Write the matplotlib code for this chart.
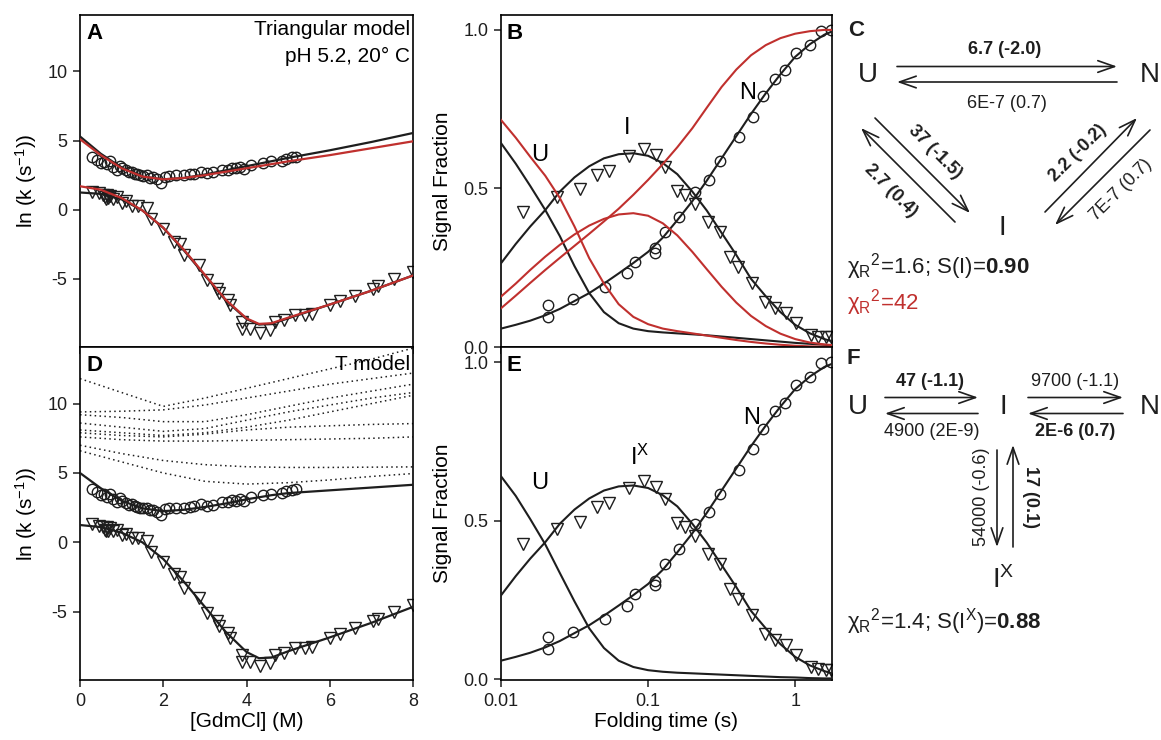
import matplotlib.pyplot as plt
import numpy as np
from matplotlib.patches import FancyArrowPatch

plt.rcParams['font.family'] = ['Liberation Sans', 'DejaVu Sans']
plt.rcParams['mathtext.fontset'] = 'custom'
plt.rcParams['mathtext.rm'] = 'Liberation Sans'
plt.rcParams['mathtext.it'] = 'Liberation Sans:italic'
plt.rcParams['mathtext.bf'] = 'Liberation Sans:bold'
plt.rcParams['mathtext.sf'] = 'Liberation Sans'
plt.rcParams['axes.linewidth'] = 1.2
plt.rcParams['axes.unicode_minus'] = False

BLACK = '#1e1e1e'
RED = '#c0302e'

# ---- chevron data, [GdmCl] (M) vs ln k ----
circ_x = [0.30, 0.42, 0.50, 0.58, 0.65, 0.72, 0.80, 0.88, 0.95, 1.02, 1.10, 1.18, 1.25, 1.32,
          1.38, 1.45, 1.52, 1.60, 1.68, 1.75, 1.85, 1.95, 2.05, 2.15, 2.30, 2.50, 2.65, 2.75,
          2.90, 3.05, 3.20, 3.40, 3.55, 3.65, 3.75, 3.85, 3.95, 4.10, 4.40, 4.60, 4.85, 4.95,
          5.10, 5.20]
circ_y = [3.85, 3.60, 3.40, 3.45, 3.30, 3.50, 3.10, 2.90, 3.20, 3.00, 2.85, 2.70, 2.75, 2.60,
          2.55, 2.50, 2.45, 2.50, 2.30, 2.35, 2.20, 1.95, 2.40, 2.45, 2.50, 2.50, 2.55, 2.60,
          2.75, 2.65, 2.70, 2.90, 2.90, 3.05, 3.00, 3.10, 2.95, 3.25, 3.40, 3.50, 3.55, 3.70,
          3.80, 3.85]
tri_x = [0.30, 0.45, 0.55, 0.60, 0.62, 0.65, 0.68, 0.72, 0.80, 0.90, 1.00, 1.10, 1.25, 1.40,
         1.60, 1.70, 2.00, 2.25, 2.40, 2.50, 2.85, 3.05, 3.30, 3.35, 3.55, 3.60, 3.88, 3.90,
         4.08, 4.33, 4.57, 4.69, 4.89, 5.17, 5.40, 5.57, 6.00, 6.25, 6.60, 7.05, 7.15, 7.55, 8.00]
tri_y = [1.30, 1.20, 1.10, 0.90, 0.80, 1.10, 0.85, 1.00, 0.80, 0.90, 0.50, 0.60, 0.30, 0.30,
         0.10, -0.70, -1.40, -2.30, -2.50, -3.30, -4.00, -5.10, -5.70, -6.00, -6.50, -6.90,
         -8.10, -8.60, -8.60, -8.90, -8.70, -8.10, -8.00, -7.60, -7.60, -7.55, -6.90, -6.60,
         -6.20, -5.70, -5.50, -5.00, -4.50]

fit_x = [0.0, 0.5, 1.0, 1.5, 2.0, 2.5, 3.0, 3.5, 4.0, 4.3, 4.6, 5.0, 6.0, 7.0, 8.0]
a_up_black = [5.30, 4.05, 3.05, 2.40, 2.20, 2.30, 2.55, 2.85, 3.15, 3.33, 3.51, 3.75, 4.30, 4.90, 5.55]
a_up_red = [5.10, 3.95, 3.00, 2.40, 2.20, 2.30, 2.50, 2.75, 3.00, 3.15, 3.30, 3.50, 3.95, 4.45, 4.95]
a_lo_black = [1.25, 1.15, 0.75, -0.05, -1.30, -2.95, -4.75, -6.55, -7.90, -8.30, -8.25, -7.85, -6.85, -5.85, -4.75]
a_lo_red = [1.70, 1.45, 0.85, -0.05, -1.30, -2.90, -4.70, -6.50, -7.85, -8.25, -8.20, -7.80, -6.85, -5.85, -4.75]
d_up_black = [5.00, 3.90, 3.00, 2.45, 2.25, 2.35, 2.55, 2.80, 3.10, 3.25, 3.40, 3.55, 3.75, 3.95, 4.15]
d_lo_black = [1.25, 1.10, 0.70, 0.00, -1.20, -2.85, -4.65, -6.45, -7.90, -8.35, -8.30, -7.85, -6.85, -5.80, -4.65]

# T model: the other eigenvalues (dotted)
dot_x = [0, 1, 2, 3, 4, 5, 6, 7, 8]
dotted_curves = [
    [11.8, 10.8, 9.8, 10.4, 11.1, 11.8, 12.5, 13.2, 14.0],
    [9.4, 9.45, 9.55, 9.9, 10.4, 10.9, 11.4, 11.8, 12.2],
    [9.2, 9.0, 8.7, 8.7, 9.2, 9.8, 10.4, 10.9, 11.4],
    [8.6, 8.3, 8.0, 8.2, 8.8, 9.4, 9.9, 10.4, 10.8],
    [8.1, 7.9, 7.7, 7.9, 8.3, 8.8, 9.4, 10.0, 10.6],
    [7.9, 7.7, 7.6, 7.8, 8.1, 8.3, 8.4, 8.5, 8.56],
    [7.6, 7.4, 7.3, 7.3, 7.35, 7.4, 7.45, 7.5, 7.6],
    [7.0, 6.4, 5.9, 5.6, 5.45, 5.4, 5.4, 5.42, 5.44],
    [6.6, 5.8, 5.0, 4.4, 4.2, 4.3, 4.5, 4.75, 4.96],
]

# ---- kinetic traces, folding time (s) vs signal fraction ----
n_t = [0.021, 0.021, 0.031, 0.0509, 0.0716, 0.0816, 0.1117, 0.1117, 0.1306, 0.1633, 0.209,
       0.261, 0.309, 0.416, 0.515, 0.608, 0.731, 0.855, 1.016, 1.264, 1.50, 1.75]
n_y = [0.132, 0.096, 0.150, 0.188, 0.232, 0.269, 0.311, 0.296, 0.364, 0.409, 0.490,
       0.527, 0.585, 0.661, 0.725, 0.790, 0.845, 0.872, 0.928, 0.953, 0.998, 1.0]
i_t = [0.01406, 0.02415, 0.0344, 0.0448, 0.0546, 0.0747, 0.0944, 0.1133, 0.1305, 0.1568,
       0.1786, 0.209, 0.257, 0.309, 0.361, 0.411, 0.507, 0.625, 0.731, 0.869, 1.016, 1.28,
       1.44, 1.62, 1.75]
i_y = [0.427, 0.474, 0.497, 0.543, 0.556, 0.603, 0.624, 0.606, 0.569, 0.493,
       0.479, 0.451, 0.395, 0.364, 0.285, 0.253, 0.203, 0.143, 0.122, 0.106, 0.077, 0.038,
       0.032, 0.030, 0.030]

ft = [0.01, 0.0126, 0.0158, 0.020, 0.0251, 0.0316, 0.0398, 0.0501, 0.0631, 0.0794, 0.1, 0.126,
      0.158, 0.2, 0.251, 0.316, 0.398, 0.501, 0.631, 0.794, 1.0, 1.26, 1.58, 1.78]
b_u_black = [0.643, 0.578, 0.508, 0.432, 0.35, 0.255, 0.17, 0.11, 0.075, 0.058, 0.05, 0.046,
             0.043, 0.040, 0.037, 0.033, 0.029, 0.025, 0.021, 0.017, 0.013, 0.010, 0.007, 0.005]
b_i_black = [0.264, 0.325, 0.38, 0.432, 0.49, 0.535, 0.57, 0.595, 0.608, 0.611, 0.603, 0.58,
             0.545, 0.49, 0.43, 0.36, 0.29, 0.215, 0.16, 0.11, 0.07, 0.043, 0.025, 0.018]
b_n_black = [0.058, 0.07, 0.083, 0.10, 0.12, 0.145, 0.17, 0.20, 0.232, 0.265, 0.30, 0.345,
             0.40, 0.46, 0.525, 0.595, 0.665, 0.735, 0.80, 0.86, 0.915, 0.955, 0.985, 0.995]
b_u_red = [0.716, 0.66, 0.60, 0.54, 0.47, 0.38, 0.28, 0.20, 0.135, 0.095, 0.072, 0.058,
           0.05, 0.043, 0.036, 0.029, 0.022, 0.016, 0.011, 0.007, 0.004, 0.002, 0.001, 0.0]
b_i_red = [0.159, 0.20, 0.243, 0.285, 0.322, 0.355, 0.383, 0.404, 0.418, 0.422, 0.414, 0.39,
           0.352, 0.30, 0.245, 0.19, 0.14, 0.098, 0.066, 0.042, 0.025, 0.014, 0.008, 0.006]
b_n_red = [0.122, 0.162, 0.202, 0.243, 0.281, 0.319, 0.357, 0.396, 0.436, 0.48, 0.527, 0.577,
           0.63, 0.69, 0.755, 0.82, 0.875, 0.92, 0.952, 0.974, 0.988, 0.996, 1.0, 1.0]
e_u_black = [0.64, 0.578, 0.505, 0.425, 0.335, 0.245, 0.16, 0.098, 0.058, 0.038, 0.028, 0.023,
             0.02, 0.018, 0.016, 0.014, 0.012, 0.010, 0.008, 0.006, 0.005, 0.003, 0.002, 0.002]
e_ix_black = b_i_black
e_n_black = b_n_black

W, H = 1161, 740
fig = plt.figure(figsize=(W / 100, H / 100), dpi=100)


def box(l, t, r, b):
    return [l / W, 1 - b / H, (r - l) / W, (b - t) / H]


axA = fig.add_axes(box(80, 15, 413, 347))
axD = fig.add_axes(box(80, 347, 413, 680))
axB = fig.add_axes(box(501, 15, 832, 347))
axE = fig.add_axes(box(501, 347, 832, 680))

mk_o = dict(ls='none', marker='o', ms=7.5, mfc='none', mec=BLACK, mew=1.0, zorder=2)
mk_v = dict(ls='none', marker='v', ms=8, mfc='none', mec=BLACK, mew=1.0, zorder=2)

for ax in (axA, axD):
    ax.plot(circ_x, circ_y, **mk_o)
    ax.plot(tri_x, tri_y, **mk_v)
    ax.set_xlim(0, 8)
    ax.set_ylim(-9.92, 14.08)
    ax.set_xticks([0, 2, 4, 6, 8])
    ax.set_yticks([-5, 0, 5, 10])
    ax.set_ylabel('ln (k (s$^{-1}$))', fontsize=15, labelpad=6)

axA.plot(fit_x, a_up_black, color=BLACK, lw=1.6, zorder=3)
axA.plot(fit_x, a_lo_black, color=BLACK, lw=1.6, zorder=3)
axA.plot(fit_x, a_up_red, color=RED, lw=1.6, zorder=4)
axA.plot(fit_x, a_lo_red, color=RED, lw=1.6, zorder=4)
axA.tick_params(labelbottom=False)
axA.text(0.02, 0.975, 'A', transform=axA.transAxes, fontsize=16, fontweight='bold', va='top')
axA.text(0.99, 0.985, 'Triangular model', transform=axA.transAxes, fontsize=15, ha='right', va='top')
axA.text(0.99, 0.905, 'pH 5.2, 20° C', transform=axA.transAxes, fontsize=15, ha='right', va='top')

for dy in dotted_curves:
    axD.plot(dot_x, dy, color=BLACK, lw=1.1, ls=(0, (1, 2.2)), zorder=1)
axD.plot(fit_x, d_up_black, color=BLACK, lw=1.6, zorder=3)
axD.plot(fit_x, d_lo_black, color=BLACK, lw=1.6, zorder=3)
axD.set_xlabel('[GdmCl] (M)', fontsize=15, labelpad=2)
axD.text(0.02, 0.975, 'D', transform=axD.transAxes, fontsize=16, fontweight='bold', va='top')
axD.text(0.99, 0.975, 'T model', transform=axD.transAxes, fontsize=15, ha='right', va='top')

for ax in (axB, axE):
    ax.plot(n_t, n_y, **mk_o)
    ax.plot(i_t, i_y, **mk_v)
    ax.set_xscale('log')
    ax.set_xlim(0.01, 1.78)
    ax.set_xticks([0.01, 0.1, 1])
    ax.set_xticklabels(['0.01', '0.1', '1'])
    ax.xaxis.set_minor_locator(plt.NullLocator())
    ax.set_yticks([0.0, 0.5, 1.0])
    ax.set_yticklabels(['0.0', '0.5', '1.0'])
    ax.set_ylabel('Signal Fraction', fontsize=15, labelpad=8)

axB.set_ylim(0, 1.047)
axE.set_ylim(-0.003, 1.048)

for curve in (b_u_black, b_i_black, b_n_black):
    axB.plot(ft, curve, color=BLACK, lw=1.5, zorder=3)
for curve in (b_u_red, b_i_red, b_n_red):
    axB.plot(ft, curve, color=RED, lw=1.5, zorder=4)
for curve in (e_u_black, e_ix_black, e_n_black):
    axE.plot(ft, curve, color=BLACK, lw=1.5, zorder=3)

axB.tick_params(labelbottom=False)
axB.text(0.018, 0.975, 'B', transform=axB.transAxes, fontsize=16, fontweight='bold', va='top')
axE.text(0.018, 0.975, 'E', transform=axE.transAxes, fontsize=16, fontweight='bold', va='top')
axE.set_xlabel('Folding time (s)', fontsize=15, labelpad=2)

axB.text(0.0184, 0.606, 'U', fontsize=17, ha='center', va='center')
axB.text(0.072, 0.69, 'I', fontsize=17, ha='center', va='center')
axB.text(0.471, 0.80, 'N', fontsize=17, ha='center', va='center')
axE.text(0.0184, 0.618, 'U', fontsize=17, ha='center', va='center')
axE.text(0.0754, 0.70, 'I$^{\\mathrm{X}}$', fontsize=17, ha='left', va='center')
axE.text(0.507, 0.823, 'N', fontsize=17, ha='center', va='center')

for ax in (axA, axD, axB, axE):
    ax.tick_params(direction='out', length=5, width=1.1, labelsize=13, pad=4, colors=BLACK)

# ---- reaction schemes C and F, drawn in pixel space ----
ov = fig.add_axes([0, 0, 1, 1])
ov.set_xlim(0, W)
ov.set_ylim(H, 0)
ov.axis('off')


def arrow(x0, y0, x1, y1):
    ov.add_patch(FancyArrowPatch((x0, y0), (x1, y1), arrowstyle='->,head_length=0.8,head_width=0.28',
                                 mutation_scale=15, lw=1.2, color=BLACK, shrinkA=0, shrinkB=0))


def txt(x, y, s, size=13, bold=False, rot=0, color=BLACK, ha='center'):
    ov.text(x, y, s, fontsize=size, fontweight='bold' if bold else 'normal', rotation=rot,
            rotation_mode='anchor', ha=ha, va='center', color=color)


chi = '$\\mathrm{\\chi}_{\\mathrm{R}}{}^{2}$'

# C
txt(848, 30, 'C', 16, True, ha='left')
txt(868, 75, 'U', 20)
txt(1160, 75, 'N', 20, ha='right')
txt(1002, 228, 'I', 20)
arrow(897, 66.5, 1117, 66.5)
arrow(1117, 82, 897, 82)
txt(1005, 49, '6.7 (-2.0)', 13, True)
txt(1007, 104, '6E-7 (0.7)', 13)
arrow(875, 118, 970, 213)
arrow(955, 222, 861, 128)
txt(935, 152, '37 (-1.5)', 13, True, rot=-45)
txt(891, 191, '2.7 (0.4)', 13, True, rot=-45)
arrow(1045, 212, 1137, 118)
arrow(1150, 130, 1055, 225)
txt(1078, 153, '2.2 (-0.2)', 13, True, rot=45)
txt(1121, 190, '7E-7 (0.7)', 13, rot=45)
txt(847, 267, chi + '=1.6; S(I)=$\\mathbf{0.90}$', 16, ha='left')
txt(847, 303, chi + '=42', 16, ha='left', color=RED)

# F
txt(847, 358, 'F', 16, True, ha='left')
txt(858, 407, 'U', 20)
txt(1003, 407, 'I', 20)
txt(1160, 407, 'N', 20, ha='right')
arrow(885, 397.5, 978, 397.5)
arrow(978, 413.5, 885, 413.5)
arrow(1028, 397.5, 1123, 397.5)
arrow(1123, 413.5, 1028, 413.5)
txt(930, 381, '47 (-1.1)', 13, True)
txt(932, 432, '4900 (2E-9)', 13)
txt(1075, 381, '9700 (-1.1)', 13)
txt(1075, 432, '2E-6 (0.7)', 13, True)
arrow(997, 450, 997, 547)
arrow(1013, 547, 1013, 445)
txt(982, 497, '54000 (-0.6)', 13, rot=90)
txt(1030, 497, '17 (0.1)', 13, True, rot=-90)
txt(1003, 580, 'I$^{\\mathrm{X}}$', 20)
txt(847, 622, chi + '=1.4; S(I$^{\\mathrm{X}}$)=$\\mathbf{0.88}$', 16, ha='left')

fig.savefig('out.png', dpi=100)
